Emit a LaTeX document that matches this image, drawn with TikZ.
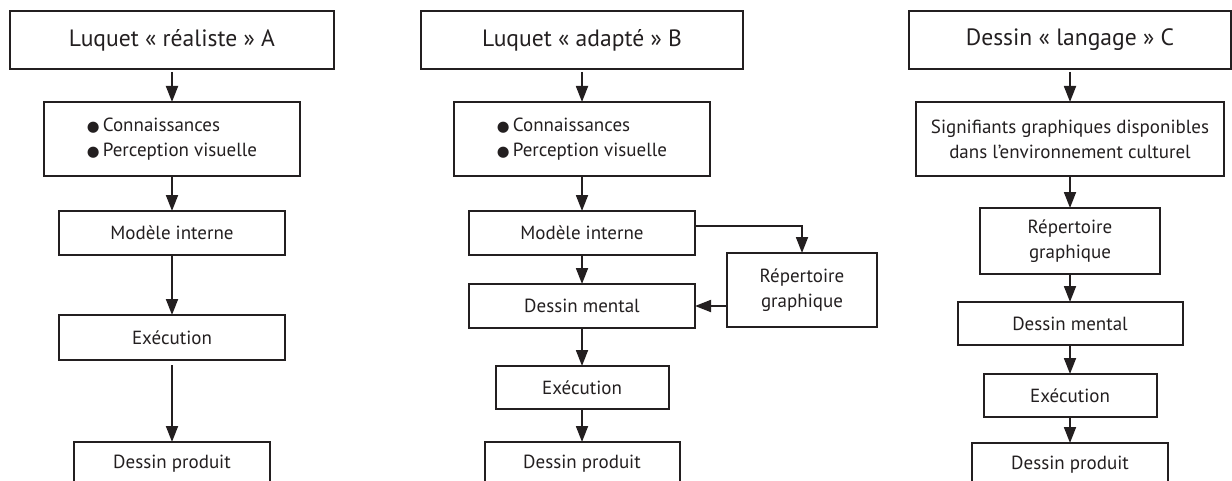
\documentclass[tikz,border=0pt]{standalone}
\usepackage{fontspec}
\setmainfont{PT Sans}
\newfontfamily\dejavu{DejaVu Sans}
\usetikzlibrary{arrows.meta}
\definecolor{ink}{HTML}{231F20}
\tikzset{
  x=0.5pt, y=-0.5pt,
  box/.style 2 args={draw=ink, line width=1pt, inner sep=0pt, outer sep=0pt,
    minimum width=#1*0.5pt, minimum height=#2*0.5pt, text=ink, align=center,
    font=\fontsize{9.5}{12.5}\selectfont},
  titlebox/.style 2 args={box={#1}{#2}, font=\fontsize{11.8}{14}\selectfont},
  arr/.style={draw=ink, line width=0.9pt, -{Triangle[length=8pt,width=6pt]}},
}
\newcommand{\blt}{{\dejavu\fontsize{7.3}{7}\selectfont ●}\,}
\begin{document}
\begin{tikzpicture}
\useasboundingbox (0,0) rectangle (1232,481);
\clip (0,0) rectangle (1232,481);
% Column A
\node[titlebox={324}{58}] (tA) at (172,40) {Luquet « réaliste » A};
\node[box={256}{74}, align=left] (kA) at (172,139) {\blt Connaissances\\ \blt Perception visuelle};
\node[box={226}{44}] (mA) at (172,233) {Modèle interne};
\node[box={226}{45}] (eA) at (172,337.5) {Exécution};
\node[box={196}{44}] (pA) at (172,464) {Dessin produit};
\draw[arr, shorten <=1.5pt] (tA) -- (kA);
\draw[arr] (kA) -- (mA);
\draw[arr] (mA) -- (eA);
\draw[arr, shorten <=2.5pt] (eA) -- (pA);
% Column B
\node[titlebox={322}{58}] (tB) at (582,40) {Luquet « adapté » B};
\node[box={256}{74}, align=left] (kB) at (582,139) {\blt Connaissances\\ \blt Perception visuelle};
\node[box={226}{44}] (mB) at (582,233) {Modèle interne};
\node[box={226}{44}] (dB) at (582,306) {Dessin mental};
\node[box={173}{43}] (eB) at (582,387.5) {Exécution};
\node[box={195}{44}] (pB) at (582,464) {Dessin produit};
\node[box={150}{74}] (rB) at (802,290) {Répertoire\\graphique};
\draw[arr, shorten <=1.5pt] (tB) -- (kB);
\draw[arr] (kB) -- (mB);
\draw[arr] (mB) -- (dB);
\draw[arr] (dB) -- (eB);
\draw[arr] (eB) -- (pB);
\draw[arr] ([yshift=3.5pt]mB.east) -| (rB.north);
\draw[arr] (rB.west |- dB.east) -- (dB.east);
% Column C
\node[titlebox={322}{58}] (tC) at (1070,40) {Dessin « langage » C};
\node[box={308}{74}] (sC) at (1070,139) {Signifiants graphiques disponibles\\dans l’environnement culturel};
\node[box={180}{66}] (rC) at (1070,241) {Répertoire\\graphique};
\node[box={225}{43}] (dC) at (1070,323.5) {Dessin mental};
\node[box={173}{43}] (eC) at (1070,395.5) {Exécution};
\node[box={196}{44}] (pC) at (1070,465) {Dessin produit};
\draw[arr, shorten <=1.5pt] (tC) -- (sC);
\draw[arr] (sC) -- (rC);
\draw[arr] (rC) -- (dC);
\draw[arr] (dC) -- (eC);
\draw[arr] (eC) -- (pC);
\end{tikzpicture}
\end{document}
